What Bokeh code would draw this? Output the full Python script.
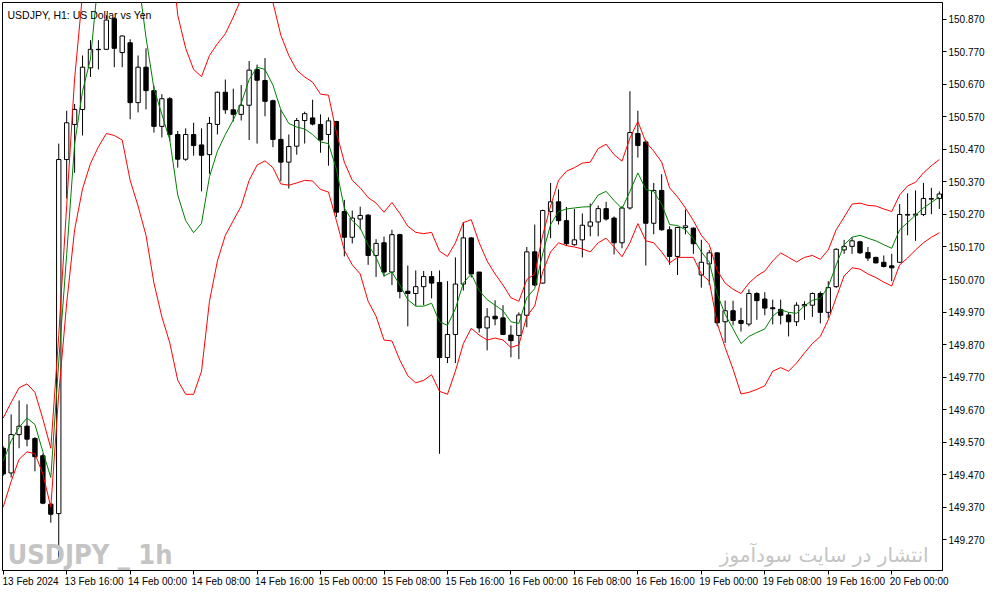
from bokeh.plotting import figure
from bokeh.models import ColumnDataSource, FixedTicker, Range1d, Label, PrintfTickFormatter
from bokeh.embed import file_html
from bokeh.resources import INLINE

# USDJPY H1, one row per bar: 13 Feb 2024 08:00 ... 20 Feb 2024 06:00
opens = [149.551, 149.475, 149.593, 149.619, 149.581, 149.528, 149.379, 149.350, 150.439, 150.547,
         150.593, 150.721, 150.778, 150.778, 150.872, 150.768, 150.798, 150.614, 150.723, 150.651,
         150.541, 150.626, 150.516, 150.440, 150.516, 150.484, 150.454, 150.547, 150.646, 150.592,
         150.578, 150.606, 150.716, 150.682, 150.620, 150.501, 150.431, 150.480, 150.559, 150.567,
         150.547, 150.516, 150.556, 150.279, 150.200, 150.256, 150.268, 150.144, 150.183, 150.093,
         150.208, 150.034, 150.027, 150.048, 150.079, 150.061, 149.830, 149.901, 150.056, 150.198,
         150.093, 149.921, 149.957, 149.952, 149.899, 149.898, 149.960, 150.155, 150.059, 150.279,
         150.309, 150.251, 150.177, 150.192, 150.234, 150.247, 150.288, 150.259, 150.183, 150.290,
         150.519, 150.493, 150.243, 150.344, 150.223, 150.141, 150.230, 150.228, 150.084, 150.118,
         150.152, 149.940, 149.974, 149.944, 149.933, 150.027, 150.010, 149.983, 149.978, 149.961,
         149.940, 149.989, 149.991, 150.027, 149.969, 150.048, 150.161, 150.172, 150.186, 150.153,
         150.138, 150.123, 150.112, 150.123, 150.268, 150.268, 150.270, 150.317, 150.319]
highs = [149.557, 149.655, 149.698, 149.686, 149.585, 149.534, 149.382, 150.488, 150.589, 150.610,
         150.759, 150.806, 150.806, 150.883, 150.877, 150.821, 150.809, 150.759, 150.781, 150.666,
         150.640, 150.631, 150.527, 150.535, 150.552, 150.535, 150.570, 150.648, 150.685, 150.657,
         150.668, 150.742, 150.731, 150.751, 150.623, 150.592, 150.516, 150.567, 150.586, 150.623,
         150.578, 150.569, 150.558, 150.315, 150.282, 150.294, 150.271, 150.194, 150.202, 150.223,
         150.211, 150.113, 150.098, 150.096, 150.096, 150.098, 150.065, 150.138, 150.247, 150.200,
         150.093, 149.982, 150.006, 149.991, 149.929, 149.969, 150.170, 150.239, 150.285, 150.367,
         150.347, 150.293, 150.287, 150.273, 150.304, 150.298, 150.309, 150.264, 150.296, 150.649,
         150.589, 150.499, 150.367, 150.394, 150.234, 150.232, 150.285, 150.230, 150.192, 150.161,
         150.152, 150.005, 150.005, 149.983, 150.040, 150.031, 150.031, 150.008, 150.008, 149.969,
         150.000, 150.003, 150.030, 150.033, 150.065, 150.166, 150.192, 150.200, 150.189, 150.170,
         150.140, 150.144, 150.149, 150.302, 150.335, 150.344, 150.367, 150.352, 150.341]
lows = [149.466, 149.461, 149.551, 149.557, 149.480, 149.379, 149.322, 149.201, 150.319, 150.398,
        150.513, 150.693, 150.716, 150.776, 150.723, 150.723, 150.563, 150.584, 150.593, 150.522,
        150.507, 150.496, 150.414, 150.435, 150.451, 150.341, 150.395, 150.516, 150.580, 150.556,
        150.559, 150.499, 150.488, 150.572, 150.477, 150.372, 150.350, 150.454, 150.488, 150.544,
        150.460, 150.420, 150.262, 150.141, 150.181, 150.223, 150.115, 150.078, 150.079, 150.053,
        150.012, 149.926, 149.989, 149.991, 150.012, 149.534, 149.813, 149.813, 150.036, 150.076,
        149.907, 149.852, 149.929, 149.899, 149.831, 149.825, 149.923, 150.050, 150.057, 150.197,
        150.239, 150.174, 150.174, 150.138, 150.203, 150.203, 150.251, 150.147, 150.166, 150.285,
        150.445, 150.113, 150.209, 150.220, 150.115, 150.084, 150.209, 150.149, 150.045, 150.053,
        149.926, 149.875, 149.929, 149.910, 149.926, 149.946, 149.960, 149.932, 149.932, 149.895,
        149.927, 149.946, 149.955, 149.935, 149.952, 150.044, 150.149, 150.149, 150.149, 150.127,
        150.120, 150.107, 150.065, 150.121, 150.206, 150.189, 150.265, 150.271, 150.287]
closes = [149.472, 149.593, 149.619, 149.579, 149.525, 149.382, 149.348, 150.439, 150.552, 150.593,
          150.723, 150.778, 150.777, 150.868, 150.781, 150.819, 150.614, 150.723, 150.651, 150.541,
          150.626, 150.516, 150.440, 150.516, 150.482, 150.452, 150.550, 150.646, 150.592, 150.578,
          150.606, 150.714, 150.683, 150.618, 150.501, 150.431, 150.479, 150.559, 150.580, 150.548,
          150.499, 150.558, 150.277, 150.200, 150.259, 150.267, 150.144, 150.181, 150.093, 150.208,
          150.033, 150.027, 150.048, 150.079, 150.059, 149.830, 149.901, 150.056, 150.198, 150.087,
          149.921, 149.955, 149.949, 149.901, 149.882, 149.961, 150.155, 150.053, 150.282, 150.309,
          150.251, 150.180, 150.192, 150.237, 150.247, 150.288, 150.256, 150.183, 150.290, 150.522,
          150.482, 150.243, 150.344, 150.223, 150.141, 150.230, 150.235, 150.180, 150.123, 150.152,
          149.937, 149.974, 149.944, 149.935, 150.027, 150.005, 149.982, 149.980, 149.960, 149.940,
          149.991, 149.993, 150.027, 149.969, 150.045, 150.163, 150.172, 150.189, 150.152, 150.136,
          150.121, 150.110, 150.106, 150.270, 150.270, 150.271, 150.319, 150.319, 150.333]

# Bollinger bands as drawn on the chart
bb_upper = [149.644, 149.692, 149.737, 149.749, 149.723, 149.641, 149.551, 149.898, 150.298, 150.688,
            150.949, 151.069, 151.522, 151.601, 151.647, 151.641, 151.705, 151.704, 151.424, 151.255,
            151.200, 151.123, 150.883, 150.781, 150.716, 150.694, 150.759, 150.795, 150.826, 150.877,
            150.934, 150.995, 151.024, 150.997, 150.922, 150.821, 150.759, 150.714, 150.693, 150.677,
            150.640, 150.637, 150.522, 150.431, 150.375, 150.352, 150.322, 150.305, 150.277, 150.307,
            150.273, 150.234, 150.215, 150.211, 150.215, 150.157, 150.141, 150.183, 150.245, 150.254,
            150.183, 150.127, 150.087, 150.053, 150.014, 150.003, 150.070, 150.087, 150.206, 150.296,
            150.375, 150.403, 150.414, 150.428, 150.431, 150.473, 150.486, 150.454, 150.434, 150.505,
            150.556, 150.493, 150.465, 150.431, 150.352, 150.324, 150.290, 150.251, 150.206, 150.177,
            150.098, 150.059, 150.040, 150.027, 150.059, 150.081, 150.096, 150.127, 150.152, 150.138,
            150.124, 150.138, 150.144, 150.132, 150.161, 150.223, 150.262, 150.302, 150.305, 150.298,
            150.296, 150.287, 150.279, 150.330, 150.358, 150.369, 150.398, 150.420, 150.439]
bb_middle = [149.511, 149.574, 149.615, 149.644, 149.624, 149.540, 149.461, 149.817, 150.147, 150.487,
             150.649, 150.748, 151.000, 151.060, 151.080, 151.070, 151.040, 151.000, 150.815, 150.657,
             150.578, 150.499, 150.330, 150.251, 150.214, 150.243, 150.386, 150.465, 150.516, 150.561,
             150.612, 150.685, 150.723, 150.716, 150.668, 150.592, 150.550, 150.539, 150.533, 150.516,
             150.493, 150.488, 150.409, 150.290, 150.251, 150.228, 150.177, 150.138, 150.081, 150.093,
             150.053, 150.008, 149.988, 149.988, 149.997, 149.940, 149.929, 149.980, 150.059, 150.087,
             150.036, 150.008, 149.991, 149.974, 149.940, 149.935, 150.014, 150.042, 150.149, 150.239,
             150.279, 150.287, 150.290, 150.293, 150.294, 150.330, 150.341, 150.313, 150.288, 150.341,
             150.398, 150.347, 150.341, 150.302, 150.239, 150.236, 150.223, 150.195, 150.155, 150.124,
             150.025, 149.963, 149.918, 149.873, 149.895, 149.907, 149.918, 149.957, 149.977, 149.969,
             149.966, 149.989, 150.006, 150.012, 150.048, 150.115, 150.177, 150.200, 150.206, 150.197,
             150.189, 150.177, 150.166, 150.223, 150.245, 150.268, 150.290, 150.307, 150.324]
bb_lower = [149.370, 149.449, 149.517, 149.540, 149.534, 149.472, 149.370, 149.718, 149.997, 150.223,
            150.349, 150.427, 150.478, 150.519, 150.513, 150.499, 150.375, 150.296, 150.206, 150.059,
            149.955, 149.875, 149.760, 149.717, 149.717, 149.788, 150.003, 150.127, 150.206, 150.251,
            150.296, 150.375, 150.422, 150.435, 150.414, 150.364, 150.360, 150.367, 150.375, 150.373,
            150.347, 150.339, 150.251, 150.160, 150.115, 150.087, 150.003, 149.957, 149.884, 149.881,
            149.822, 149.774, 149.752, 149.760, 149.777, 149.726, 149.717, 149.788, 149.873, 149.920,
            149.899, 149.884, 149.890, 149.884, 149.861, 149.869, 149.957, 149.989, 150.093, 150.155,
            150.183, 150.174, 150.170, 150.164, 150.155, 150.183, 150.197, 150.170, 150.140, 150.183,
            150.242, 150.189, 150.183, 150.155, 150.121, 150.138, 150.138, 150.138, 150.087, 150.065,
            149.935, 149.861, 149.794, 149.718, 149.723, 149.732, 149.743, 149.788, 149.799, 149.788,
            149.813, 149.844, 149.873, 149.895, 149.946, 150.014, 150.081, 150.106, 150.102, 150.087,
            150.076, 150.062, 150.050, 150.115, 150.136, 150.161, 150.183, 150.200, 150.214]

time_ticks = [0, 8, 16, 24, 32, 40, 48, 56, 64, 72, 80, 88, 96, 104, 112]
time_labels = ["13 Feb 2024", "13 Feb 16:00", "14 Feb 00:00", "14 Feb 08:00", "14 Feb 16:00",
               "15 Feb 00:00", "15 Feb 08:00", "15 Feb 16:00", "16 Feb 00:00", "16 Feb 08:00",
               "16 Feb 16:00", "19 Feb 00:00", "19 Feb 08:00", "19 Feb 16:00", "20 Feb 00:00"]
price_ticks = [149.27, 149.37, 149.47, 149.57, 149.67, 149.77, 149.87, 149.97,
               150.07, 150.17, 150.27, 150.37, 150.47, 150.57, 150.67, 150.77, 150.87]

bars = list(range(len(opens)))
src = ColumnDataSource(dict(
    x=bars, high=highs, low=lows,
    top=[max(o, c) for o, c in zip(opens, closes)],
    bottom=[min(o, c) for o, c in zip(opens, closes)],
    fill=["white" if c >= o else "black" for o, c in zip(opens, closes)],
    up=bb_upper, mid=bb_middle, lo=bb_lower,
))

p = figure(width=987, height=589, output_backend="svg", toolbar_location=None,
           x_range=Range1d(-0.09, 118.4), y_range=Range1d(149.175, 150.922),
           y_axis_location="right", min_border_left=2, min_border_top=2,
           min_border_right=4, min_border_bottom=2)
p.grid.visible = False
p.outline_line_color = "black"
p.background_fill_color = "white"

# candles
p.segment("x", "high", "x", "low", source=src, color="black", line_width=1)
p.vbar("x", 0.55, "top", "bottom", source=src, fill_color="fill", line_color="black", line_width=1)

# bands
p.line("x", "up", source=src, color="#ff0000", line_width=1)
p.line("x", "lo", source=src, color="#ff0000", line_width=1)
p.line("x", "mid", source=src, color="#008000", line_width=1)

for ax in (p.xaxis[0], p.yaxis[0]):
    ax.axis_line_color = "black"
    ax.major_tick_line_color = "black"
    ax.major_tick_in = 0
    ax.major_tick_out = 4
    ax.minor_tick_line_color = None
    ax.major_label_text_font = "Liberation Sans"
    ax.major_label_text_font_size = "10px"
    ax.major_label_text_color = "black"
    ax.major_label_standoff = 2

# MT4 puts each time label to the right of its tick: the visible tick marks are the
# minor ticks, the (hidden) major ticks sit half a label further right and carry the text
label_shift = 3.45
p.xaxis.ticker = FixedTicker(ticks=[t + label_shift for t in time_ticks], minor_ticks=time_ticks)
p.xaxis.major_label_overrides = {t + label_shift: s for t, s in zip(time_ticks, time_labels)}
p.xaxis.major_tick_line_color = None
p.xaxis.minor_tick_line_color = "black"
p.xaxis.minor_tick_in = 0
p.xaxis.minor_tick_out = 4
p.xaxis.major_label_standoff = 1

p.yaxis.ticker = FixedTicker(ticks=price_ticks)
p.yaxis.formatter = PrintfTickFormatter(format="%.3f")

p.add_layout(Label(x=5, y=562, x_units="screen", y_units="screen", text="USDJPY, H1:  US Dollar vs Yen",
                   text_font="Liberation Sans", text_font_size="10.5px", text_color="black",
                   text_baseline="top"))
p.add_layout(Label(x=5, y=1, x_units="screen", y_units="screen", text="USDJPY _ 1h",
                   text_font="'Liberation Sans Narrow', 'DejaVu Sans Condensed', 'Liberation Sans', sans-serif",
                   text_font_style="bold", text_font_size="27px",
                   text_color="#c4c4c4", text_baseline="bottom"))
p.add_layout(Label(x=926, y=4, x_units="screen", y_units="screen", text="انتشار در سایت سودآموز",
                   text_font="'DejaVu Sans', sans-serif", text_font_size="20px", text_color="#c4c4c4",
                   text_align="right", text_baseline="bottom"))

open("out.html", "w").write(file_html(p, INLINE))
